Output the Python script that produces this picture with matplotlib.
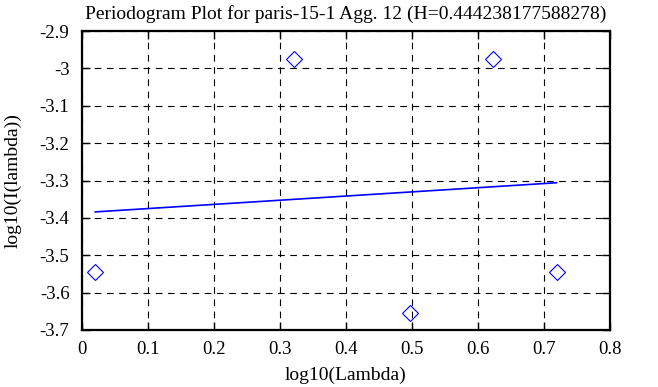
import matplotlib
matplotlib.use("Agg")
import matplotlib.pyplot as plt

plt.rcParams["font.family"] = ["Liberation Serif", "DejaVu Serif"]

log_lambda = [0.0201, 0.3212, 0.4971, 0.6221, 0.7190]
log_I = [-3.544, -2.975, -3.654, -2.975, -3.544]

fit_x = [0.0201, 0.7190]
fit_y = [-3.384, -3.306]

fig = plt.figure(figsize=(6.58, 3.87), dpi=100)
ax = fig.add_axes([82 / 658, 57 / 387, 528 / 658, 299 / 387])

ax.plot(fit_x, fit_y, color="#0000ff", lw=1.2)
ax.plot(log_lambda, log_I, linestyle="none", marker="D", markersize=8,
        markerfacecolor="none", markeredgecolor="#0000ff", markeredgewidth=0.8)

ax.set_xlim(0, 0.8)
ax.set_ylim(-3.7, -2.9)
ax.set_xticks([0, 0.1, 0.2, 0.3, 0.4, 0.5, 0.6, 0.7, 0.8])
ax.set_xticklabels(["0", "0.1", "0.2", "0.3", "0.4", "0.5", "0.6", "0.7", "0.8"])
ax.set_yticks([-3.7, -3.6, -3.5, -3.4, -3.3, -3.2, -3.1, -3.0, -2.9])
ax.set_yticklabels(["-3.7", "-3.6", "-3.5", "-3.4", "-3.3", "-3.2", "-3.1", "-3", "-2.9"])

ax.grid(True, color="black", linestyle=(0, (6, 5)), linewidth=0.8)
ax.tick_params(direction="in", length=6, width=1, top=True, right=True,
               labelsize=13.5)
ax.tick_params(axis="y", pad=9)
ax.tick_params(axis="x", pad=8)
for s in ax.spines.values():
    s.set_linewidth(1.6)

ax.set_xlabel("log10(Lambda)", fontsize=14, labelpad=6)
ax.set_ylabel("log10(I(lambda))", fontsize=14, labelpad=13)
ax.set_title("Periodogram Plot for paris-15-1 Agg. 12 (H=0.444238177588278)",
             fontsize=14, pad=9)

fig.savefig("out.png")
